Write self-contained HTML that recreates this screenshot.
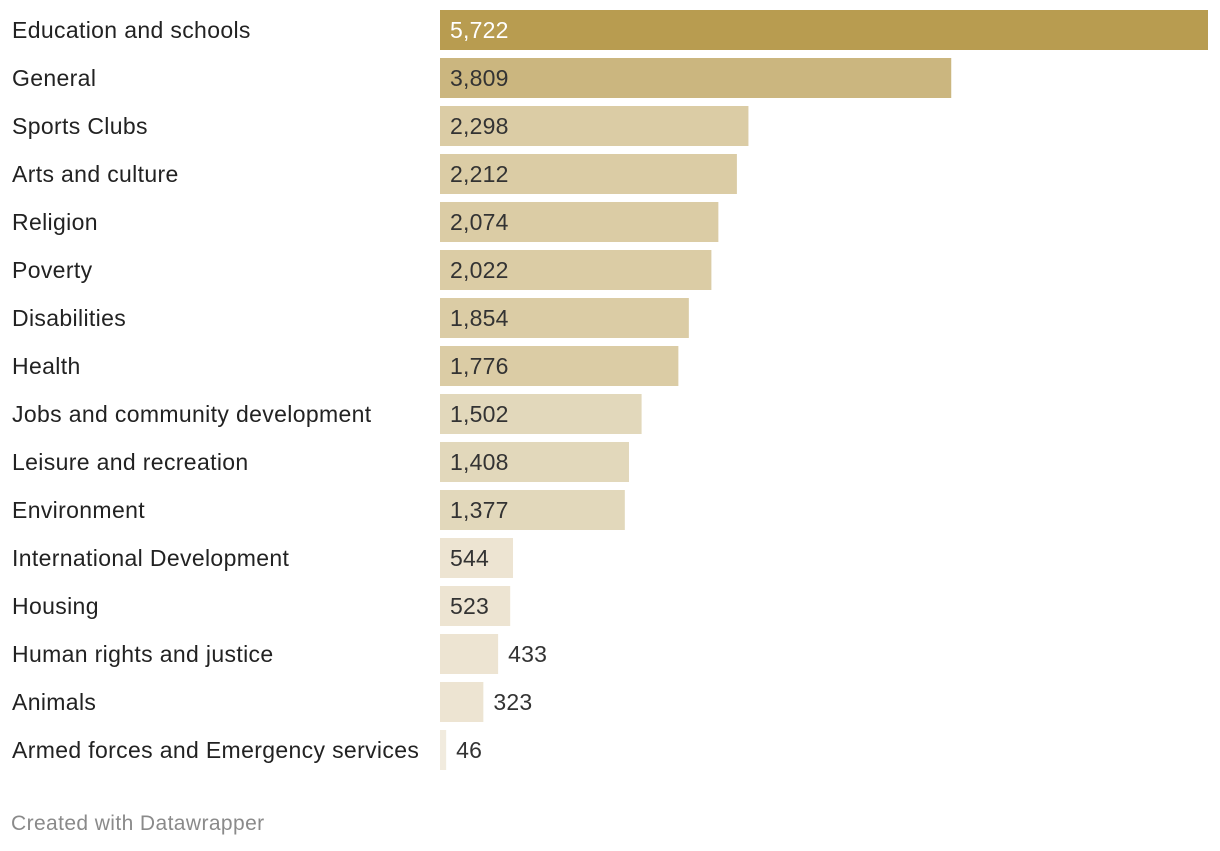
<!DOCTYPE html>
<html><head><meta charset="utf-8"><style>
body{margin:0;background:#fff;width:1220px;height:846px;overflow:hidden;font-family:"Liberation Sans",sans-serif}
svg text{font-family:"Liberation Sans",sans-serif}
</style></head><body>
<svg id="chart" width="1220" height="846"></svg>
<script>
const categories=["Education and schools","General","Sports Clubs","Arts and culture","Religion","Poverty","Disabilities","Health","Jobs and community development","Leisure and recreation","Environment","International Development","Housing","Human rights and justice","Animals","Armed forces and Emergency services"];
const values=[5722,3809,2298,2212,2074,2022,1854,1776,1502,1408,1377,544,523,433,323,46];
const colors=["#b89c50","#cbb67f","#dbcca5","#dbcca5","#dbcca5","#dbcca5","#dbcca5","#dbcca5","#e2d8bb","#e2d8bb","#e2d8bb","#ede4d2","#ede4d2","#ede4d2","#ede4d2","#f1ebde"];
const svg=document.getElementById('chart');
const NS='http://www.w3.org/2000/svg';
const x0=440,x1=1208,maxV=Math.max(...values);
const xs=v=>v/maxV*(x1-x0);
const ys=i=>10+i*48;
const fmt=v=>v.toLocaleString('en-US');
categories.forEach((c,i)=>{
  const y=ys(i);
  const t=document.createElementNS(NS,'text');
  
  
  t.setAttribute('x',12);t.setAttribute('y',y+28);
  t.setAttribute('font-size','23');t.setAttribute('fill','#222');t.setAttribute('letter-spacing','0.35');
  t.textContent=c;svg.appendChild(t);
  const w=xs(values[i]);
  const r=document.createElementNS(NS,'rect');
  
  
  r.setAttribute('x',x0);r.setAttribute('y',y);r.setAttribute('width',w);r.setAttribute('height',40);
  r.setAttribute('fill',colors[i]);svg.appendChild(r);
  const v=document.createElementNS(NS,'text');
  
  
  const inside=w>70;
  v.setAttribute('x',inside?x0+10:x0+w+10);v.setAttribute('y',y+28);
  v.setAttribute('font-size','23');v.setAttribute('fill',i===0?'#fff':'#333');v.setAttribute('letter-spacing','0.2');
  v.textContent=fmt(values[i]);svg.appendChild(v);
});
const f=document.createElementNS(NS,'text');


f.setAttribute('x',11);f.setAttribute('y',830);f.setAttribute('font-size','21');f.setAttribute('fill','#8a8a8a');f.setAttribute('letter-spacing','0.4');
f.textContent='Created with Datawrapper';svg.appendChild(f);
</script>
</body></html>
